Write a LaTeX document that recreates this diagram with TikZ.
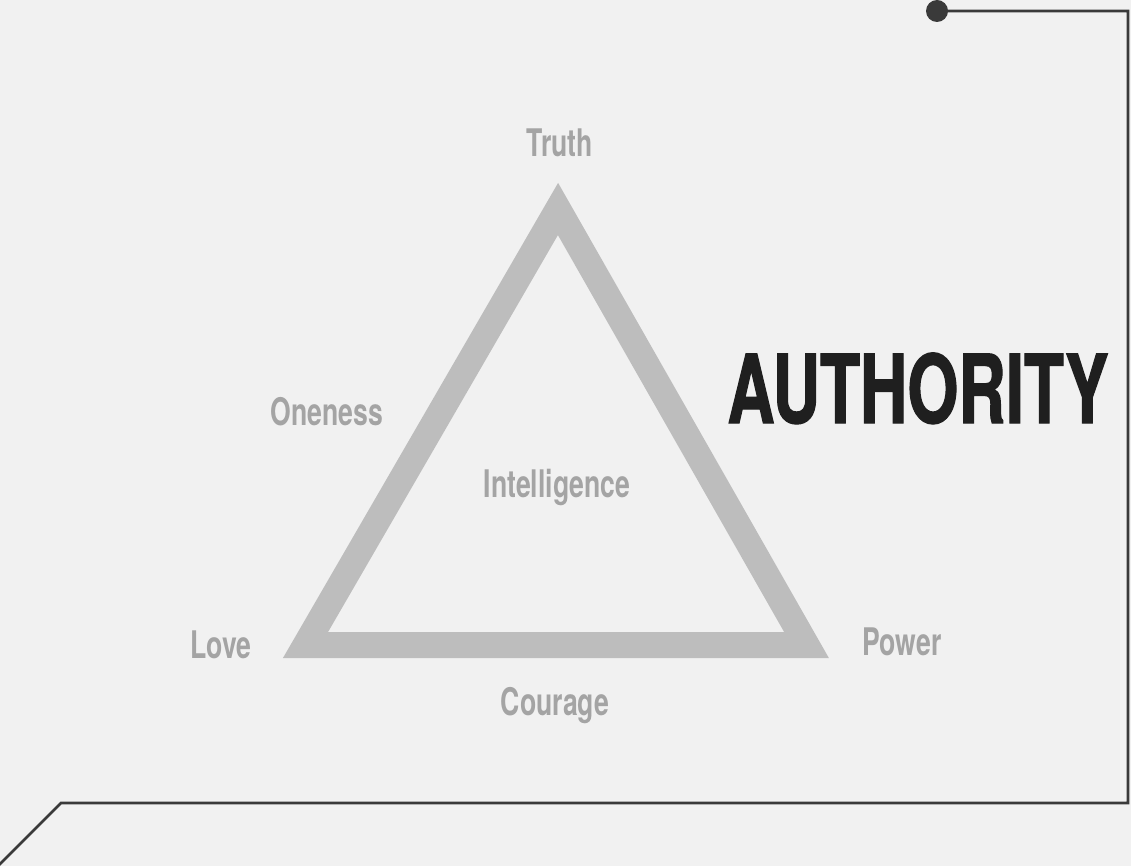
\documentclass[tikz,border=0pt]{standalone}
\usepackage{fontspec}
\usepackage{tkz-euclide}

% narrow bold sans for the labels and the title
\newfontfamily\labelfont{TeX Gyre Heros}[FakeStretch=0.7]
\newfontfamily\titlefont{TeX Gyre Heros}[FakeStretch=0.69,FakeBold=1.2]

\definecolor{paper}{HTML}{F1F1F1}
\definecolor{trigray}{HTML}{BDBDBD}
\definecolor{labelgray}{HTML}{A4A4A4}
\definecolor{rulegray}{HTML}{3A3A3A}

\tikzset{
    corner/.style={font=\labelfont\bfseries\fontsize{38}{38}\selectfont,
        text=labelgray, anchor=base, inner sep=0pt},
    frame/.style={rulegray, line width=2.6pt, line join=miter}
}

\begin{document}
\begin{tikzpicture}[x=1pt,y=-1pt]
        % Fondo del papel.
        \fill[paper] (0,0) rectangle (1131,866);
        \useasboundingbox (0,0) rectangle (1131,866);

        % Vertices del triangulo y esquinas del marco.
        \tkzDefPoints{
            558/209/T,
            305.5/645/L,
            806.5/645/P,
            937/11/K,
            1128/11/R1,
            1128/803/R2,
            61/803/B1,
            -4/868/B2%
        }

        % Dibuja el triangulo.
        \tkzDrawPolygon[trigray, line width=26pt, line join=miter](T,L,P)

        % Dibuja el marco con su punto.
        \draw[frame] (K) -- (R1) -- (R2) -- (B1) -- (B2);
        \fill[rulegray] (K) circle (11);

        % Etiquetas alrededor del triangulo.
        \node[corner] (truth) at (560,157) {Truth};
        \node[corner] (oneness) at (327,425) {Oneness};
        \node[corner] (intelligence) at (557,497) {Intelligence};
        \node[corner] (love) at (221,658) {Love};
        \node[corner] (power) at (902,655) {Power};
        \node[corner] (courage) at (555,715) {Courage};

        % Titulo.
        \node[font=\titlefont\bfseries\fontsize{95}{95}\selectfont,
            text=black!88, anchor=base, inner sep=0pt]
            (authority) at (918,423) {AUTHORITY};
    \end{tikzpicture}
\end{document}
